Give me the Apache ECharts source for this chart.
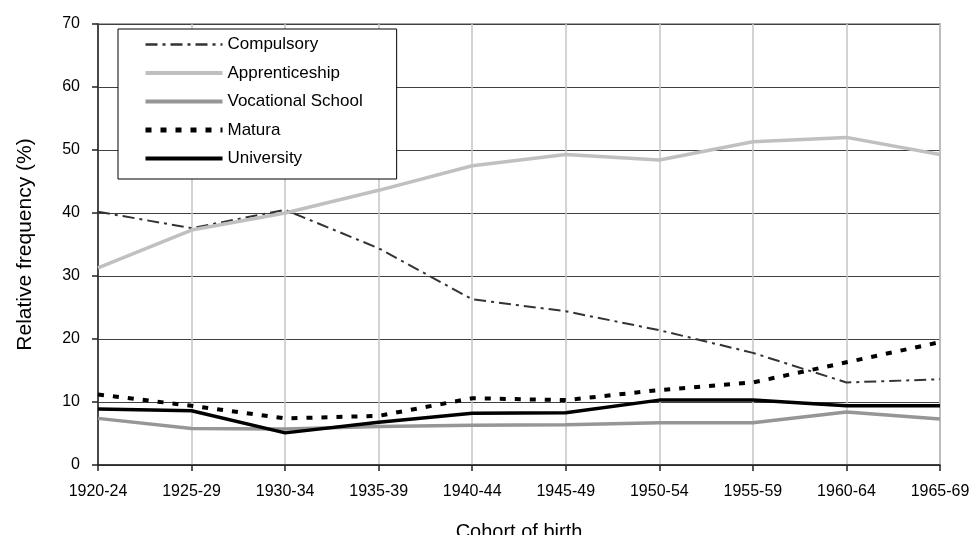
<!DOCTYPE html>
<html>
<head>
<meta charset="utf-8">
<script src="https://cdn.jsdelivr.net/npm/echarts@6/dist/echarts.min.js"></script>
<style>
  html, body { margin: 0; padding: 0; background: #fff; }
  #main { width: 971px; height: 535px; }
</style>
</head>
<body>
<div id="main"></div>
<script type="text/javascript">
    // cohorts of birth
    var cohorts = ['1920-24', '1925-29', '1930-34', '1935-39', '1940-44',
                   '1945-49', '1950-54', '1955-59', '1960-64', '1965-69'];
    var yTicks = [0, 10, 20, 30, 40, 50, 60, 70];

    // relative frequency (%) per education level
    var compulsory     = [40.2, 37.6, 40.5, 34.4, 26.3, 24.4, 21.4, 17.8, 13.1, 13.6];
    var apprenticeship = [31.3, 37.3, 40.0, 43.6, 47.5, 49.3, 48.4, 51.3, 52.0, 49.3];
    var vocational     = [7.4, 5.8, 5.7, 6.1, 6.3, 6.4, 6.7, 6.7, 8.4, 7.3];
    var matura         = [11.2, 9.4, 7.4, 7.8, 10.6, 10.3, 11.9, 13.1, 16.3, 19.5];
    var university     = [8.9, 8.6, 5.1, 6.8, 8.2, 8.3, 10.3, 10.3, 9.4, 9.4];

    var font = 'Liberation Sans, Arial, sans-serif';

    var myChart = echarts.init(document.getElementById('main'));
    var option = {
        animation: false,
        textStyle: { fontFamily: font },
        grid: {
            left: 98,
            right: 31,
            top: 24,
            bottom: 70,
            outerBoundsMode: 'none',
            containLabel: false,
            show: true,
            borderColor: '#888',
            borderWidth: 1.5
        },
        legend: {
            orient: 'vertical',
            left: 118,
            top: 29,
            padding: [7, 34, 12, 25],
            itemWidth: 77,
            itemHeight: 14,
            itemGap: 11.5,
            backgroundColor: '#fff',
            borderColor: '#000',
            borderWidth: 1,
            borderRadius: 0,
            itemStyle: { opacity: 0 },
            textStyle: { fontSize: 17, color: '#000', fontFamily: font },
            data: [
                { name: 'Compulsory', lineStyle: { width: 2.5 } },
                { name: 'Apprenticeship', lineStyle: { width: 4 } },
                { name: 'Vocational School', lineStyle: { width: 4 } },
                { name: 'Matura', lineStyle: { width: 5 } },
                { name: 'University', lineStyle: { width: 4 } }
            ]
        },
        xAxis: {
            type: 'category',
            data: cohorts,
            boundaryGap: false,
            name: 'Cohort of birth',
            nameLocation: 'middle',
            nameGap: 57,
            nameTextStyle: { fontSize: 20, color: '#000' },
            axisLine: { lineStyle: { color: '#222', width: 1.5 } },
            axisTick: { show: true, length: 6, lineStyle: { color: '#222', width: 1.5 } },
            axisLabel: { fontSize: 16, color: '#000', margin: 19 },
            splitLine: { show: true, lineStyle: { color: '#c4c4c4', width: 1.5 } }
        },
        yAxis: {
            type: 'value',
            min: yTicks[0],
            max: yTicks[yTicks.length - 1],
            interval: 10,
            name: 'Relative frequency (%)',
            nameLocation: 'middle',
            nameGap: 62,
            nameTextStyle: { fontSize: 21, color: '#000' },
            axisLine: { show: true, lineStyle: { color: '#222', width: 1.5 } },
            axisTick: { show: true, length: 6, lineStyle: { color: '#222', width: 1.5 } },
            axisLabel: { fontSize: 16, color: '#000', margin: 18 },
            splitLine: { show: true, lineStyle: { color: '#404040', width: 1 } }
        },
        series: [{
            name: 'Compulsory',
            type: 'line',
            symbol: 'none',
            data: compulsory,
            lineStyle: { color: '#333', width: 2, type: [12, 5, 3, 5] },
            itemStyle: { color: '#333' }
        }, {
            name: 'Apprenticeship',
            type: 'line',
            symbol: 'none',
            data: apprenticeship,
            lineStyle: { color: '#c0c0c0', width: 3.5 },
            itemStyle: { color: '#c0c0c0' }
        }, {
            name: 'Vocational School',
            type: 'line',
            symbol: 'none',
            data: vocational,
            lineStyle: { color: '#969696', width: 3.5 },
            itemStyle: { color: '#969696' }
        }, {
            name: 'Matura',
            type: 'line',
            symbol: 'none',
            data: matura,
            lineStyle: { color: '#000', width: 4, type: [6, 9] },
            itemStyle: { color: '#000' }
        }, {
            name: 'University',
            type: 'line',
            symbol: 'none',
            data: university,
            lineStyle: { color: '#000', width: 3.5 },
            itemStyle: { color: '#000' }
        }]
    };
    myChart.setOption(option);
</script>
</body>
</html>
